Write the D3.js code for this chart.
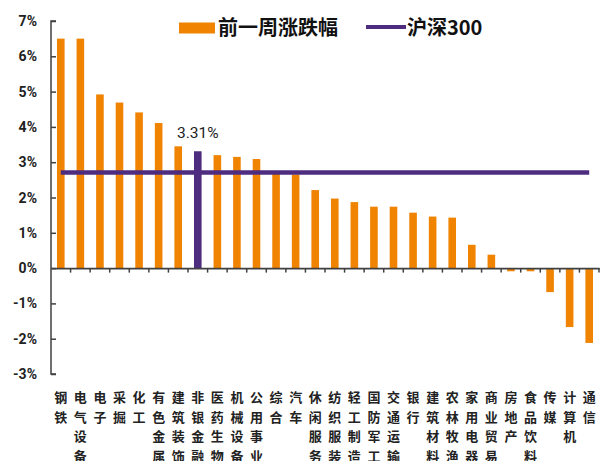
<!DOCTYPE html>
<html><head><meta charset="utf-8">
<script src="https://cdn.jsdelivr.net/npm/d3@7"></script>
<style>html,body{margin:0;padding:0;background:#fff;}svg{display:block;}</style>
</head><body>
<svg id="c" width="600" height="461"></svg>
<script>
const categories = ["钢铁","电气设备","电子","采掘","化工","有色金属","建筑装饰","非银金融","医药生物","机械设备","公用事业","综合","汽车","休闲服务","纺织服装","轻工制造","国防军工","交通运输","银行","建筑材料","农林牧渔","家用电器","商业贸易","房地产","食品饮料","传媒","计算机","通信"];
const weeklyChange = [6.5,6.5,4.92,4.69,4.41,4.11,3.45,3.31,3.2,3.15,3.09,2.67,2.65,2.21,1.97,1.87,1.74,1.74,1.57,1.46,1.43,0.66,0.38,-0.09,-0.09,-0.68,-1.67,-2.12];
const hs300 = 2.71;
const highlight = "非银金融";
const yTicks = [-3,-2,-1,0,1,2,3,4,5,6,7];
const seriesNames = ["前一周涨跌幅","沪深300"];

const svg = d3.select("#c");
const orange = "#F08300", purple = "#4E2C80", axisCol = "#404040";
const x = d3.scaleBand().domain(categories).range([51, 599]).paddingInner(0.6).paddingOuter(0.3);
const xb = d3.scaleBand().domain(categories).range([51, 599]);
const y = d3.scaleLinear().domain([-3, 7]).range([374, 21]);

// bars
svg.append("g").selectAll("rect").data(categories).join("rect")
  .attr("x", (d) => xb(d) + xb.bandwidth()/2 - 3.8)
  .attr("width", 7.6)
  .attr("y", (d,i) => y(Math.max(0, weeklyChange[i])))
  .attr("height", (d,i) => Math.abs(y(weeklyChange[i]) - y(0)))
  .attr("fill", d => d === highlight ? purple : orange);

// HS300 line
svg.append("line")
  .attr("x1", xb(categories[0]) + xb.bandwidth()/2)
  .attr("x2", xb(categories[categories.length-1]) + xb.bandwidth()/2)
  .attr("y1", y(hs300)).attr("y2", y(hs300))
  .attr("stroke", purple).attr("stroke-width", 4.5);

// highlight label
const hi = categories.indexOf(highlight);
svg.append("text")
  .attr("x", xb(highlight) + xb.bandwidth()/2)
  .attr("y", y(weeklyChange[hi]) - 13)
  .attr("text-anchor", "middle")
  .attr("font-family", "Roboto, 'Noto Sans', sans-serif")
  .attr("font-size", 15.5).attr("fill", "#222")
  .text(weeklyChange[hi].toFixed(2) + "%");

// y axis
const yAxis = d3.axisRight(y).tickValues(yTicks).tickSize(5).tickFormat("");
const ga = svg.append("g").attr("transform", "translate(51,0)").call(yAxis);
ga.select(".domain").attr("stroke", axisCol).attr("stroke-width", 1.5).attr("d", `M5,${y(7)}H0V${y(-3)}H5`);
ga.selectAll(".tick line").attr("stroke", axisCol).attr("stroke-width", 1.5);
svg.append("g").selectAll("text").data(yTicks).join("text")
  .attr("x", 37).attr("y", d => y(d) + 5)
  .attr("text-anchor", "end")
  .attr("font-family", "Roboto, 'Noto Sans', sans-serif")
  .attr("font-weight", "bold").attr("font-size", 14).attr("fill", "#222")
  .text(d => d + "%");

// x axis at zero
const xAxis = d3.axisBottom(xb).tickSize(0).tickFormat("");
const gx = svg.append("g").attr("transform", `translate(0,${y(0)})`).call(xAxis);
gx.select(".domain").attr("stroke", axisCol).attr("stroke-width", 1.8);
gx.selectAll(".tick").remove();
const bounds = categories.map(d => xb(d) + xb.bandwidth()).slice(0);
gx.selectAll("line.bt").data(bounds).join("line").attr("class","bt")
  .attr("x1", d => d).attr("x2", d => d).attr("y1", 0).attr("y2", 4.5)
  .attr("stroke", axisCol).attr("stroke-width", 1.5);

// category labels, vertical
const lab = svg.append("g").attr("font-family", "'Noto Sans CJK SC', sans-serif")
  .attr("font-weight", "bold").attr("font-size", 13).attr("fill", "#222");
categories.forEach(c => {
  Array.from(c).forEach((ch, j) => {
    lab.append("text")
      .attr("x", xb(c) + xb.bandwidth()/2)
      .attr("y", 402 + j * 19.6)
      .attr("text-anchor", "middle")
      .text(ch);
  });
});

// legend
const lg = svg.append("g").attr("font-family", "'Noto Sans CJK SC', sans-serif").attr("font-weight", "bold").attr("font-size", 20).attr("fill", "#111");
lg.append("rect").attr("x", 179).attr("y", 22.5).attr("width", 36).attr("height", 11).attr("fill", orange);
lg.append("text").attr("x", 218).attr("y", 35).text(seriesNames[0]);
lg.append("line").attr("x1", 366).attr("x2", 406).attr("y1", 27).attr("y2", 27).attr("stroke", purple).attr("stroke-width", 4);
lg.append("text").attr("x", 407).attr("y", 35).text(seriesNames[1]);
</script>
</body></html>
